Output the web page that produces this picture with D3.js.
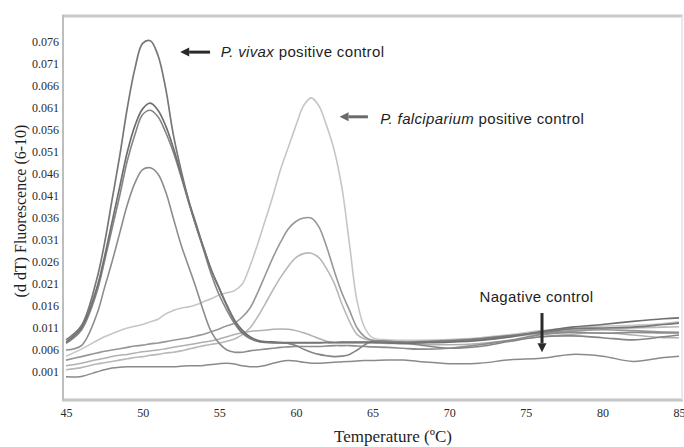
<!DOCTYPE html>
<html>
<head>
<meta charset="utf-8">
<script src="https://cdn.jsdelivr.net/npm/d3@7"></script>
<style>
  body { margin: 0; background: #fff; }
  svg { display: block; }
  .tick text { font-family: "Liberation Serif", "DejaVu Serif", serif; font-size: 12px; fill: #2a2a2a; }
  .note { font-family: "Liberation Sans", Arial, sans-serif; font-size: 15px; letter-spacing: 0.35px; fill: #1e1e1e; }
</style>
</head>
<body>
<div id="chart"></div>
<script>
// Data (temperature grid shared by all melt curves)
const temps = [45, 46, 47, 47.5, 48, 48.5, 49, 49.5, 50, 50.5,
  51, 51.5, 52, 52.5, 53, 53.5, 54, 54.5, 55, 55.5,
  56, 56.5, 57, 57.5, 58, 58.5, 59, 59.5, 60, 60.5,
  61, 61.5, 62, 62.5, 63, 63.5, 64, 64.5, 65,
  66, 67, 68, 70, 72, 74, 76, 78, 80, 82, 84, 85];

const vivax1 = [.0083, .0115, .0220, .0300, .0400, .0500, .0610, .0700, .0757, .0763,
  .0730, .0655, .0550, .0470, .0400, .0340, .0290, .0240, .0200, .0160,
  .0125, .0100, .0088, .0080, .0077, .0076, .0076, .0076, .0076, .0076,
  .0076, .0076, .0077, .0077, .0077, .0077, .0077, .0077, .0077,
  .0077, .0077, .0078, .0080, .0085, .0092, .0100, .0108, .0110, .0112, .0118, .0121];

const vivax2 = [.0078, .0110, .0200, .0270, .0350, .0430, .0510, .0570, .0608, .0621,
  .0605, .0570, .0520, .0460, .0400, .0345, .0290, .0240, .0200, .0162,
  .0128, .0105, .0090, .0082, .0079, .0078, .0077, .0077, .0077, .0077,
  .0077, .0077, .0077, .0077, .0078, .0078, .0078, .0078, .0078,
  .0076, .0075, .0076, .0078, .0082, .0090, .0102, .0112, .0118, .0125, .0131, .0133];

const vivax3 = [.0075, .0105, .0190, .0260, .0335, .0410, .0490, .0550, .0595, .0605,
  .0590, .0555, .0510, .0455, .0395, .0340, .0285, .0230, .0185, .0150,
  .0120, .0098, .0086, .0080, .0078, .0078, .0077, .0075, .0070, .0062,
  .0055, .0050, .0047, .0045, .0046, .0050, .0060, .0072, .0080,
  .0080, .0077, .0072, .0064, .0068, .0080, .0090, .0092, .0088, .0083, .0090, .0094];

const vivax4 = [.0060, .0070, .0140, .0200, .0260, .0325, .0390, .0440, .0470, .0474,
  .0460, .0420, .0360, .0300, .0250, .0200, .0145, .0100, .0075, .0060,
  .0055, .0055, .0058, .0060, .0062, .0064, .0066, .0067, .0068, .0068,
  .0068, .0068, .0069, .0070, .0070, .0070, .0069, .0068, .0067,
  .0066, .0064, .0062, .0064, .0072, .0082, .0095, .0100, .0098, .0100, .0099, .0099];

const falciparum1 = [.0046, .0062, .0081, .0090, .0097, .0104, .0110, .0114, .0118, .0124,
  .0130, .0142, .0150, .0155, .0158, .0163, .0170, .0177, .0185, .0190,
  .0195, .0210, .0250, .0300, .0355, .0410, .0470, .0520, .0570, .0615,
  .0633, .0615, .0570, .0514, .0430, .0300, .0170, .0110, .0088,
  .0083, .0082, .0082, .0084, .0088, .0095, .0104, .0110, .0114, .0116, .0120, .0124];

const falciparum2 = [.0037, .0045, .0053, .0057, .0060, .0063, .0066, .0069, .0071, .0074,
  .0076, .0079, .0082, .0085, .0088, .0092, .0096, .0102, .0108, .0115,
  .0121, .0135, .0155, .0190, .0230, .0270, .0305, .0335, .0352, .0360,
  .0360, .0340, .0295, .0240, .0190, .0150, .0110, .0090, .0082,
  .0079, .0078, .0079, .0082, .0086, .0093, .0099, .0103, .0106, .0104, .0101, .0100];

const falciparum3 = [.0015, .0020, .0028, .0031, .0034, .0037, .0040, .0043, .0045, .0048,
  .0050, .0053, .0055, .0058, .0062, .0066, .0070, .0073, .0076, .0080,
  .0085, .0095, .0110, .0135, .0165, .0196, .0225, .0250, .0270, .0279,
  .0280, .0270, .0245, .0212, .0165, .0125, .0095, .0085, .0082,
  .0080, .0079, .0078, .0079, .0083, .0090, .0097, .0104, .0108, .0110, .0112, .0113];

const sample = [.0024, .0030, .0038, .0041, .0045, .0048, .0050, .0053, .0056, .0058,
  .0060, .0063, .0066, .0069, .0072, .0075, .0078, .0081, .0085, .0090,
  .0095, .0099, .0102, .0104, .0105, .0107, .0108, .0107, .0104, .0099,
  .0093, .0086, .0080, .0077, .0076, .0076, .0076, .0076, .0076,
  .0075, .0074, .0073, .0072, .0075, .0082, .0090, .0096, .0099, .0094, .0088, .0088];

const negative = [-.0001, .0000, .0010, .0015, .0019, .0021, .0022, .0022, .0022, .0022,
  .0022, .0022, .0022, .0023, .0024, .0024, .0025, .0027, .0029, .0030,
  .0028, .0024, .0022, .0022, .0025, .0030, .0034, .0036, .0035, .0032,
  .0030, .0030, .0031, .0032, .0033, .0034, .0035, .0036, .0036,
  .0037, .0037, .0034, .0029, .0030, .0038, .0041, .0050, .0046, .0034, .0043, .0046];

const xTicks = [45, 50, 55, 60, 65, 70, 75, 80, 85];
const yTicks = [0.001, 0.006, 0.011, 0.016, 0.021, 0.026, 0.031, 0.036, 0.041,
  0.046, 0.051, 0.056, 0.061, 0.066, 0.071, 0.076];

// Layout
const [width, height] = [684, 447];
const frame = { left: 63, right: 682, top: 15, bottom: 400 };

const svg = d3.select('#chart').append('svg')
  .attr('width', width)
  .attr('height', height);

const x = d3.scaleLinear().domain([45, 85]).range([66, 679]);
const y = d3.scaleLinear().domain([0.001, 0.076]).range([372, 42]);

// cornice grigia
svg.append('line').attr('x1', frame.left - 1).attr('x2', frame.right + 1)
  .attr('y1', frame.top + 1).attr('y2', frame.top + 1)
  .attr('stroke', '#c9c9c9').attr('stroke-width', 3);
svg.append('line').attr('x1', frame.left - 1).attr('x2', frame.right + 1)
  .attr('y1', frame.bottom).attr('y2', frame.bottom)
  .attr('stroke', '#c6c6c6').attr('stroke-width', 3);
svg.append('line').attr('x1', frame.left).attr('x2', frame.left)
  .attr('y1', frame.top).attr('y2', frame.bottom)
  .attr('stroke', '#bdbdbd').attr('stroke-width', 2);
svg.append('line').attr('x1', frame.right).attr('x2', frame.right)
  .attr('y1', frame.top).attr('y2', frame.bottom)
  .attr('stroke', '#e2e2e2').attr('stroke-width', 1.5);

// Axes (labels only)
const yAxis = svg.append('g')
  .attr('transform', `translate(${frame.left},0)`)
  .call(d3.axisLeft(y).tickValues(yTicks).tickSize(0).tickPadding(4).tickFormat(d3.format('.3f')));
yAxis.select('.domain').remove();

const xAxis = svg.append('g')
  .attr('transform', `translate(0,${frame.bottom})`)
  .call(d3.axisBottom(x).tickValues(xTicks).tickSize(0).tickPadding(8));
xAxis.select('.domain').remove();

svg.append('text')
  .attr('x', 393).attr('y', 442)
  .attr('text-anchor', 'middle')
  .style('font-family', '"Liberation Serif", "DejaVu Serif", serif')
  .style('font-size', '17px').style('fill', '#1e1e1e')
  .text('Temperature (ºC)');

svg.append('text')
  .attr('transform', 'translate(26,211) rotate(-90)')
  .attr('text-anchor', 'middle')
  .style('font-family', '"Liberation Serif", "DejaVu Serif", serif')
  .style('font-size', '16px').style('fill', '#1e1e1e')
  .text('(d dT) Fluorescence (6-10)');

// Curves
const series = [
  { values: sample, color: '#b0b0b0', w: 1.5 },
  { values: falciparum1, color: '#c6c6c6', w: 1.6 },
  { values: falciparum3, color: '#b8b8b8', w: 1.6 },
  { values: falciparum2, color: '#979797', w: 1.6 },
  { values: negative, color: '#8a8a8a', w: 1.5 },
  { values: vivax4, color: '#8c8c8c', w: 1.6 },
  { values: vivax3, color: '#858585', w: 1.6 },
  { values: vivax2, color: '#6f6f6f', w: 1.7 },
  { values: vivax1, color: '#777777', w: 1.7 }
];

const line = d3.line()
  .x((d, i) => x(temps[i]))
  .y((d) => y(d))
  .curve(d3.curveCatmullRom.alpha(0.5));

svg.append('g').selectAll('path')
  .data(series)
  .enter()
  .append('path')
  .attr('d', (s) => line(s.values))
  .attr('fill', 'none')
  .attr('stroke', (s) => s.color)
  .attr('stroke-width', (s) => s.w)
  .attr('stroke-linejoin', 'round');

// Annotations (anchored in data units)
const arrow = (from, to, color) => {
  const [x1, y1] = [x(from[0]), y(from[1])];
  const [x2, y2] = [x(to[0]), y(to[1])];
  const ang = Math.atan2(y2 - y1, x2 - x1);
  const head = 9, half = 4.5;
  const bx = x2 - head * Math.cos(ang), by = y2 - head * Math.sin(ang);
  svg.append('line')
    .attr('x1', x1).attr('y1', y1).attr('x2', bx).attr('y2', by)
    .attr('stroke', color).attr('stroke-width', 3);
  const px = -Math.sin(ang) * half, py = Math.cos(ang) * half;
  svg.append('path')
    .attr('d', `M${x2},${y2}L${bx + px},${by + py}L${bx - px},${by - py}Z`)
    .attr('fill', color);
};

arrow([54.4, 0.0737], [52.45, 0.0737], '#2a2a2a');
arrow([64.7, 0.0590], [62.85, 0.0590], '#6a6a6a');
arrow([76.06, 0.0144], [76.06, 0.0055], '#2a2a2a');

const note1 = svg.append('text').attr('class', 'note')
  .attr('x', x(55.1)).attr('y', y(0.0726));
note1.append('tspan').style('font-style', 'italic').text('P. vivax');
note1.append('tspan').text(' positive control');

const note2 = svg.append('text').attr('class', 'note')
  .attr('x', x(65.5)).attr('y', y(0.0574));
note2.append('tspan').style('font-style', 'italic').text('P. falciparium');
note2.append('tspan').text(' positive control');

svg.append('text').attr('class', 'note')
  .attr('x', x(75.7)).attr('y', y(0.0169))
  .attr('text-anchor', 'middle')
  .text('Nagative control');
</script>
</body>
</html>
